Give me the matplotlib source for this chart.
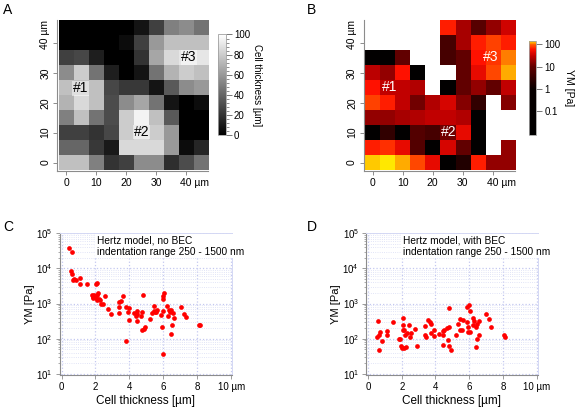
import numpy as np
import matplotlib
matplotlib.use("Agg")
import matplotlib.pyplot as plt
import matplotlib.transforms as mtransforms
from matplotlib.colors import LogNorm, LinearSegmentedColormap
from matplotlib.ticker import AutoMinorLocator, LogLocator

plt.rcParams['font.family'] = ['Liberation Sans', 'DejaVu Sans']
plt.rcParams['mathtext.fontset'] = 'custom'
plt.rcParams['mathtext.rm'] = 'Liberation Sans'

#Grid positions (um)
pos = [0, 5, 10, 15, 20, 25, 30, 35, 40, 45]
ticks = [0, 10, 20, 30, 40]
ticklabels = ["0", "10", "20", "30", "40 µm"]

#Cell thickness map (rows from top, y=45 down to y=0)
thickness = [
    [0, 0, 0, 0, 0, 8, 25, 50, 55, 45],
    [0, 0, 0, 0, 5, 25, 60, 75, 75, 75],
    [25, 28, 12, 0, 0, 20, 65, 85, 90, 90],
    [55, 80, 45, 12, 0, 8, 45, 70, 80, 75],
    [75, 75, 75, 28, 22, 22, 8, 35, 55, 60],
    [70, 85, 75, 30, 55, 65, 45, 8, 0, 5],
    [50, 75, 45, 30, 80, 95, 75, 35, 0, 0],
    [25, 25, 20, 28, 80, 85, 80, 60, 0, 0],
    [40, 40, 22, 10, 85, 85, 85, 60, 5, 15],
    [75, 75, 50, 20, 25, 55, 55, 18, 30, 45],
]

#YM map (rows from top), nan = no value
nan = np.nan
ym_map = [
    [nan, nan, nan, nan, nan, 65, 22, 8, 18, 35],
    [nan, nan, nan, nan, nan, 5, 22, 65, 80, 65],
    [0.05, 0.05, 10, nan, nan, 5, 10, 60, 75, 105],
    [28, 18, 60, 0.05, nan, nan, 10, 45, 85, 120],
    [60, 30, 30, 25, nan, 0.05, 10, 18, 10, 30],
    [80, 65, 30, 12, 25, 38, 15, 3, nan, 15],
    [18, 18, 22, 25, 30, 30, 25, 0.05, nan, nan],
    [0.05, 3, 0.05, 7, 5, 12, 45, 0.05, nan, nan],
    [65, 72, 45, 7, 0.05, 38, 10, 0.05, nan, 18],
    [125, 140, 118, 85, 45, 0.05, 2, 65, 18, 18],
]

#Region labels
roi_names = ["#1", "#2", "#3"]
roi_x_A = [4.8, 25.2, 40.9]
roi_y_A = [24.8, 10.2, 35.2]
roi_x_B = [5.6, 25.3, 39.3]
roi_y_B = [25.2, 10.3, 35.3]

#YM vs thickness, no BEC
thick_noBEC = [0.45, 0.59, 0.55, 0.63, 0.67, 0.76, 0.84, 1.08, 1.06, 1.51, 2.04, 2.12,
               1.80, 1.84, 1.88, 1.92, 1.98, 2.02, 2.08, 2.12, 2.16, 2.22, 2.28, 2.35, 2.45, 2.55,
               2.76, 2.94, 3.37, 3.37, 3.51, 3.63, 3.41, 3.78, 3.80, 3.96, 3.92, 3.98,
               4.25, 4.45, 4.47, 4.41, 4.45, 4.76, 4.80, 4.75, 4.84, 4.92, 4.69,
               5.24, 5.33, 5.43, 5.47, 5.57, 5.63, 5.50, 5.88, 5.90, 5.96, 6.02, 6.00, 5.96, 6.00,
               6.22, 6.31, 6.29, 6.41, 6.47, 6.57, 6.63, 6.49, 6.43, 7.04, 7.22, 7.33, 8.10, 8.16]
ym_noBEC = [37000, 29500, 8200, 7000, 4600, 5000, 4700, 5200, 3600, 3500, 3500, 3800,
            1800, 1550, 1450, 1700, 1500, 1400, 1800, 1300, 2000, 1350, 1300, 1000, 960, 1650,
            700, 500, 800, 1100, 1150, 1600, 530, 820, 88, 740, 560, 340,
            550, 600, 500, 450, 320, 580, 1800, 180, 190, 220, 440,
            370, 530, 600, 870, 580, 650, 560, 480, 210, 1650, 1950, 1350, 600, 38,
            860, 650, 440, 570, 650, 540, 390, 240, 140, 790, 510, 420, 250, 240]

#YM vs thickness, with BEC
thick_BEC = [0.59, 0.55, 0.65, 0.71, 0.65, 0.81, 1.10, 1.10, 1.50, 1.83, 1.89, 1.93, 1.99,
             2.05, 2.09, 2.09, 2.15, 2.19, 2.13, 2.28, 2.32, 2.44, 2.46, 2.56, 2.76, 2.93,
             3.39, 3.39, 3.43, 3.54, 3.66, 3.76, 3.74, 3.90, 3.94, 4.23, 4.43, 4.49, 4.43, 4.45,
             4.69, 4.72, 4.80, 4.80, 4.80, 4.90,
             5.22, 5.32, 5.43, 5.43, 5.57, 5.63, 5.87, 5.96, 6.02, 5.87, 5.91, 5.94, 6.06, 6.22,
             6.28, 6.38, 6.22, 6.46, 6.56, 6.46, 6.42, 6.61, 7.01, 7.19, 7.32, 8.07, 8.13]
ym_BEC = [330, 115, 130, 160, 49, 85, 165, 125, 300, 96, 100, 64, 55,
          240, 390, 180, 180, 130, 55, 60, 150, 245, 115, 150, 185, 64,
          230, 130, 115, 350, 300, 270, 150, 120, 180, 140, 165, 180, 130, 68,
          200, 92, 730, 210, 64, 48,
          126, 270, 370, 180, 180, 340, 800, 930, 630, 300, 220, 160, 160, 380,
          330, 220, 250, 260, 330, 100, 60, 130, 520, 360, 210, 130, 110]

W, H = 576.0, 411.0
def box(x0, y0, x1, y1):
    #pixel box (top-left origin) -> figure fraction
    return [x0/W, 1-y1/H, (x1-x0)/W, (y1-y0)/H]

fig = plt.figure(figsize=(5.76, 4.11), dpi=100)

hot = LinearSegmentedColormap.from_list("ymhot", [
    (0.0, "#000000"), (0.49, "#080000"), (0.60, "#300000"), (0.728, "#600000"),
    (0.841, "#c00000"), (0.913, "#ff1000"), (0.965, "#ff6000"), (1.0, "#ffe800")])

ext = [pos[0]-2.5, pos[-1]+2.5, pos[0]-2.5, pos[-1]+2.5]
gray_sp = "#8c8c8c"

def style_map(ax):
    ax.set_xlim(ext[0]-0.4, ext[1])
    ax.set_ylim(ext[2]-0.4, ext[3])
    for s in ["top", "right"]:
        ax.spines[s].set_visible(False)
    for s in ["left", "bottom"]:
        ax.spines[s].set_color(gray_sp)
        ax.spines[s].set_linewidth(0.8)
    ax.set_xticks(ticks)
    ax.set_yticks(ticks)
    ax.set_xticklabels(ticklabels, fontsize=7.5)
    ax.set_yticklabels(ticklabels, fontsize=7.5, rotation=90, va="center")
    ax.tick_params(length=3, width=0.7, color=gray_sp, pad=2)
    off = 4.2/72
    lx = ax.get_xticklabels()[-1]
    lx.set_ha("left")
    lx.set_transform(lx.get_transform() + mtransforms.ScaledTranslation(-off, 0, fig.dpi_scale_trans))
    ly = ax.get_yticklabels()[-1]
    ly.set_va("bottom")
    ly.set_transform(ly.get_transform() + mtransforms.ScaledTranslation(0, -off, fig.dpi_scale_trans))

#Panel A
axA = fig.add_axes(box(57.3, 20.5, 208.5, 171.2))
imA = axA.imshow(thickness, cmap="gray", vmin=0, vmax=100, extent=ext,
                 interpolation="nearest", aspect="auto")
style_map(axA)
for name, x, y in zip(roi_names, roi_x_A, roi_y_A):
    axA.text(x, y, name, fontsize=10, color="black", ha="center", va="center",
             bbox=dict(facecolor="white", edgecolor="none", alpha=0.5, pad=0.3))

caxA = fig.add_axes(box(217.5, 34.5, 225.5, 135))
cbA = fig.colorbar(imA, cax=caxA)
cbA.set_ticks([0, 20, 40, 60, 80, 100])
cbA.ax.yaxis.set_minor_locator(AutoMinorLocator(5))
cbA.ax.tick_params(which="major", labelsize=7, length=4, width=0.6, color="#606060", pad=2)
cbA.ax.tick_params(which="minor", length=2, width=0.5, color="#606060")
cbA.outline.set_edgecolor("#a0a0a0")
cbA.outline.set_linewidth(0.6)
cbA.set_label("Cell thickness [µm]", rotation=270, fontsize=7, labelpad=9)

#Panel B
axB = fig.add_axes(box(364.0, 20.5, 515.2, 171.2))
imB = axB.imshow(np.array(ym_map), cmap=hot, norm=LogNorm(vmin=0.0085, vmax=140),
                 extent=ext, interpolation="nearest", aspect="auto")
style_map(axB)
for name, x, y in zip(roi_names, roi_x_B, roi_y_B):
    axB.text(x, y, name, fontsize=10, color="white", ha="center", va="center")

caxB = fig.add_axes(box(529.3, 41, 536, 135))
cbB = fig.colorbar(imB, cax=caxB)
cbB.set_ticks([0.1, 1, 10, 100])
cbB.set_ticklabels(["0.1", "1", "10", "100"])
cbB.ax.tick_params(which="major", labelsize=7, length=4, width=0.6, color="#606060", pad=2)
cbB.ax.tick_params(which="minor", length=2, width=0.5, color="#606060")
cbB.outline.set_edgecolor("#a0a0a0")
cbB.outline.set_linewidth(0.6)
cbB.set_label("YM [Pa]", rotation=270, fontsize=7.5, labelpad=10)

#Panels C and D
def style_scatter(ax, note):
    ax.set_yscale("log")
    ax.set_xlim(-0.12, 10.05)
    ax.set_ylim(9.3, 1.0e5)
    ax.set_xticks([0, 2, 4, 6, 8, 10])
    ax.set_xticklabels(["0", "2", "4", "6", "8", "10 µm"])
    ax.yaxis.set_major_locator(LogLocator(base=10, numticks=10))
    ax.yaxis.set_minor_locator(LogLocator(base=10, subs=np.arange(2, 10), numticks=20))
    ax.grid(True, which="major", color="#c4c8f0", linestyle=":", linewidth=0.9)
    ax.grid(True, which="minor", axis="y", color="#d8dcf4", linestyle=":", linewidth=0.6)
    ax.set_axisbelow(True)
    for s in ["top", "right"]:
        ax.spines[s].set_color("#d4d8f4")
        ax.spines[s].set_linewidth(0.7)
    for s in ["left", "bottom"]:
        ax.spines[s].set_color(gray_sp)
        ax.spines[s].set_linewidth(0.8)
    ax.tick_params(which="major", labelsize=7, length=3, width=0.6, color=gray_sp, pad=2)
    ax.tick_params(which="minor", length=1.8, width=0.5, color=gray_sp)
    ax.tick_params(axis="x", which="minor", bottom=False)
    ax.set_xlabel("Cell thickness [µm]", fontsize=8.5, labelpad=2)
    ax.set_ylabel("YM [Pa]", fontsize=8, labelpad=1)
    ax.text(0.215, 0.985, note, transform=ax.transAxes, fontsize=7.3, va="top", ha="left",
            linespacing=1.2, bbox=dict(facecolor="white", edgecolor="none", pad=1.0))

axC = fig.add_axes(box(59.5, 233.3, 232, 375))
axC.plot(thick_noBEC, ym_noBEC, "o", color="#ff0000", ms=3.4, mec="none")
style_scatter(axC, "Hertz model, no BEC\nindentation range 250 - 1500 nm")

axD = fig.add_axes(box(366, 233.3, 537.5, 375))
axD.plot(thick_BEC, ym_BEC, "o", color="#ff0000", ms=3.4, mec="none")
style_scatter(axD, "Hertz model, with BEC\nindentation range 250 - 1500 nm")

#Panel letters
for letter, px, py in [("A", 3, 3), ("B", 307, 3), ("C", 3, 220), ("D", 307, 220)]:
    fig.text(px/W, 1-py/H, letter, fontsize=10, ha="left", va="top")

plt.savefig("out.png", dpi=100)
